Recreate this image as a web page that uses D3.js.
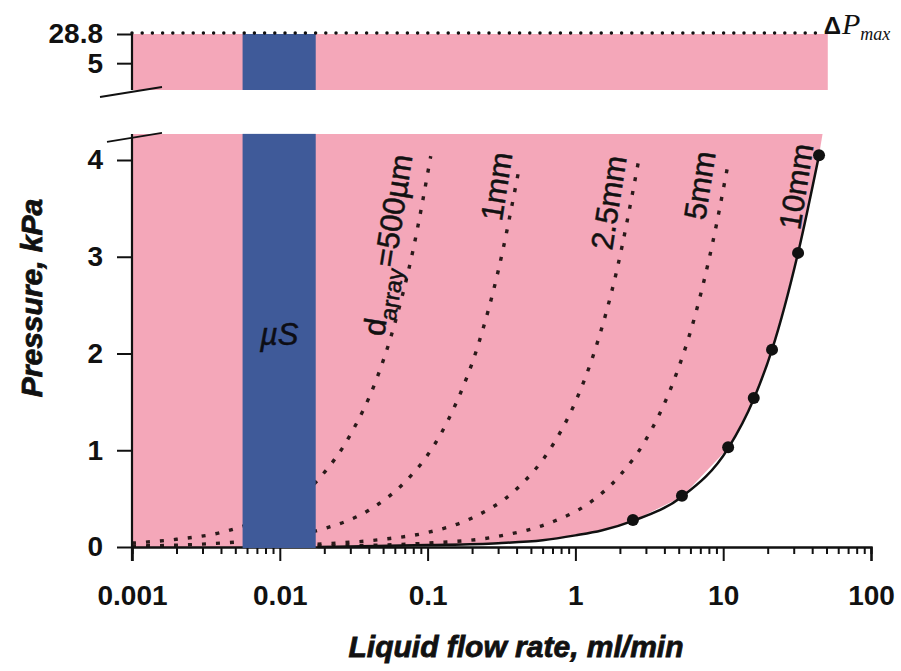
<!DOCTYPE html>
<html>
<head>
<meta charset="utf-8">
<script src="https://cdn.jsdelivr.net/npm/d3@7"></script>
<style>
  html, body { margin: 0; padding: 0; background: #fff; }
  svg { display: block; font-family: "Liberation Sans", Arial, sans-serif; }
</style>
</head>
<body>
<svg id="chart" width="901" height="671"></svg>
<script>
// ---------------- data ----------------
const flowTicks = [0.001, 0.01, 0.1, 1, 10, 100];
const flowTickLabels = ["0.001", "0.01", "0.1", "1", "10", "100"];
const pressureTicksLower = [0, 1, 2, 3, 4];
const pressureTicksUpper = [5, 28.8];
const pressureMax = 28.8;
const lowerTop = 4.27;
const upperBottom = 1;
const flowMin = 0.001, flowMax = 100;
const bandFlow = [0.0056, 0.0175];           // µS region
const pinkUpperRightFlow = 51;

// dotted model lines (d_array)
const curveNames = ["500µm", "1mm", "2.5mm", "5mm"];
const curveFlows = [
  [0.001, 0.002, 0.004, 0.007, 0.01, 0.018, 0.03, 0.045, 0.06, 0.08, 0.105],
  [0.001, 0.003, 0.01, 0.02, 0.04, 0.07, 0.1, 0.15, 0.22, 0.3, 0.41],
  [0.018, 0.05, 0.1, 0.2, 0.4, 0.7, 1.0, 1.4, 1.9, 2.66],
  [0.018, 0.05, 0.1, 0.3, 0.7, 1.2, 2.0, 3.0, 4.5, 6.5, 8.5, 10.7]
];
const curvePressures = [
  [0.04, 0.08, 0.15, 0.27, 0.39, 0.69, 1.16, 1.73, 2.31, 3.08, 4.04],
  [0.01, 0.03, 0.1, 0.19, 0.38, 0.67, 0.95, 1.43, 2.09, 2.85, 3.86],
  [0.03, 0.08, 0.15, 0.3, 0.6, 1.05, 1.5, 2.1, 2.85, 3.97],
  [0.01, 0.02, 0.04, 0.11, 0.26, 0.44, 0.74, 1.11, 1.67, 2.41, 3.15, 3.93]
];

// 10 mm measured line and points
const lineFlow = [0.018, 0.1, 0.3, 0.6, 1.0, 1.5, 2.45, 5.26, 10.8, 16.1, 21.4, 32.1, 44.5];
const linePressure = [0.0, 0.02, 0.04, 0.07, 0.12, 0.17, 0.27, 0.52, 1.02, 1.53, 2.04, 3.04, 4.05];
const dotFlow = [2.45, 5.26, 10.8, 16.1, 21.4, 32.1, 44.5];
const dotPressure = [0.28, 0.53, 1.03, 1.54, 2.04, 3.04, 4.05];
const pinkTopFlow = 47;

// label anchors (data coordinates)
const labelTexts = ["500µm", "1mm", "2.5mm", "5mm", "10mm"];
const labelFlow = [0.0507, 0.318, 1.77, 7.53, 33.1];
const labelPressure = [2.17, 3.36, 3.06, 3.37, 3.27];

// ---------------- drawing ----------------
const SANS = "'Liberation Sans', Arial, sans-serif";
const SERIF = "'Liberation Serif', 'Times New Roman', serif";
const svg = d3.select("#chart");
const pink = "#f4a7b9", blue = "#3f5a99", ink = "#111";

const x = d3.scaleLog().domain([flowMin, flowMax]).range([132, 871]);
const yL = d3.scaleLinear().domain([0, 4]).range([547, 160]);
const yU = d3.scaleLog().domain([upperBottom, pressureMax]).range([90, 34]);

// upper pink
svg.append("rect")
  .attr("x", x(flowMin)).attr("y", yU(pressureMax))
  .attr("width", x(pinkUpperRightFlow) - x(flowMin))
  .attr("height", yU(upperBottom) - yU(pressureMax))
  .attr("fill", pink);

// lower pink polygon bounded by 10mm line
const poly = [[flowMin, 0], [flowMin, lowerTop], [pinkTopFlow, lowerTop]];
for (let i = lineFlow.length - 1; i >= 0; i--) poly.push([lineFlow[i], linePressure[i]]);
svg.append("path")
  .attr("d", d3.line().x(d => x(d[0])).y(d => yL(d[1]))(poly) + "Z")
  .attr("fill", pink);

// dotted curves
const lineGen = d3.line().x(d => x(d[0])).y(d => yL(d[1])).curve(d3.curveMonotoneX);
curveFlows.forEach((fl, i) => {
  const pts = fl.map((f, j) => [f, curvePressures[i][j]]);
  svg.append("path").attr("d", lineGen(pts))
    .attr("fill", "none").attr("stroke", "#2a1a1a")
    .attr("stroke-width", 3.4).attr("stroke-dasharray", "4,10");
});

// x axis
const xMajor = d3.axisBottom(x).tickValues(flowTicks).tickSize(14)
  .tickFormat((d, i) => flowTickLabels[i]);
const minorVals = x.ticks().filter(v => !flowTicks.some(t => Math.abs(t - v) / t < 1e-6));
const xMinor = d3.axisBottom(x).tickValues(minorVals).tickSize(7).tickFormat("");
const gxm = svg.append("g").attr("transform", `translate(0,${yL(0)})`).call(xMinor);
const gx = svg.append("g").attr("transform", `translate(0,${yL(0)})`).call(xMajor);
[gx, gxm].forEach(g => {
  g.select(".domain").attr("stroke", ink).attr("stroke-width", 2.2);
  g.selectAll(".tick line").attr("stroke", ink).attr("stroke-width", 2);
});
gx.selectAll(".tick text")
  .attr("y", 58).attr("dy", 0)
  .attr("font-size", 28).attr("font-weight", "bold").attr("fill", ink)
  .style("font-family", SANS);

// blue µS band (covers curves and axis line)
svg.append("rect")
  .attr("x", x(bandFlow[0])).attr("y", yL(lowerTop))
  .attr("width", x(bandFlow[1]) - x(bandFlow[0]))
  .attr("height", yL(0) - yL(lowerTop) + 1)
  .attr("fill", blue);
svg.append("rect")
  .attr("x", x(bandFlow[0])).attr("y", yU(pressureMax))
  .attr("width", x(bandFlow[1]) - x(bandFlow[0]))
  .attr("height", yU(upperBottom) - yU(pressureMax))
  .attr("fill", blue);
svg.append("text")
  .attr("x", (x(bandFlow[0]) + x(bandFlow[1])) / 2).attr("y", yL(2.09))
  .attr("text-anchor", "middle").attr("font-size", 31).attr("font-style", "italic")
  .attr("fill", "#0d0d14").attr("stroke", "#0d0d14").attr("stroke-width", 0.5)
  .style("font-family", SANS).text("µS");

// 10 mm solid line and points
svg.append("path")
  .attr("d", lineGen(lineFlow.map((f, i) => [f, linePressure[i]])))
  .attr("fill", "none").attr("stroke", ink).attr("stroke-width", 2.5);
svg.selectAll("circle.pt").data(dotFlow).join("circle")
  .attr("class", "pt")
  .attr("cx", d => x(d)).attr("cy", (d, i) => yL(dotPressure[i]))
  .attr("r", 6).attr("fill", ink);

// ΔPmax dotted line
svg.append("line")
  .attr("x1", x(flowMin)).attr("x2", x(pinkUpperRightFlow) - 3)
  .attr("y1", yU(pressureMax) - 1).attr("y2", yU(pressureMax) - 1)
  .attr("stroke", ink).attr("stroke-width", 3.5)
  .attr("stroke-linecap", "round").attr("stroke-dasharray", "0,10.2");
const pm = svg.append("text")
  .attr("x", x(pinkUpperRightFlow) - 4).attr("y", yU(pressureMax))
  .attr("fill", ink);
pm.append("tspan").text("Δ").style("font-family", SANS)
  .attr("font-weight", "bold").attr("font-size", 24);
pm.append("tspan").text("P").style("font-family", SERIF)
  .attr("font-style", "italic").attr("font-size", 30).attr("dx", 1);
pm.append("tspan").text("max").style("font-family", SERIF)
  .attr("font-style", "italic").attr("font-size", 18).attr("dy", 6);

// y axes
const gyL = svg.append("g").attr("transform", `translate(${x(flowMin)},0)`)
  .call(d3.axisLeft(yL).tickValues(pressureTicksLower).tickSize(15).tickPadding(14)
    .tickFormat(d3.format("d")));
const gyU = svg.append("g").attr("transform", `translate(${x(flowMin)},0)`)
  .call(d3.axisLeft(yU).tickValues(pressureTicksUpper).tickSize(15).tickPadding(14)
    .tickFormat(d => String(d)));
gyL.select(".domain").remove();
gyU.select(".domain").remove();
[gyL, gyU].forEach(g => {
  g.selectAll(".tick line").attr("stroke", ink).attr("stroke-width", 2);
  g.selectAll(".tick text").attr("font-size", 28).attr("font-weight", "bold")
    .attr("fill", ink).style("font-family", SANS);
});
svg.append("line").attr("x1", x(flowMin)).attr("x2", x(flowMin))
  .attr("y1", yL(lowerTop)).attr("y2", yL(0) + 14)
  .attr("stroke", ink).attr("stroke-width", 2.2);
svg.append("line").attr("x1", x(flowMin)).attr("x2", x(flowMin))
  .attr("y1", yU(pressureMax)).attr("y2", yU(upperBottom))
  .attr("stroke", ink).attr("stroke-width", 2.2);
// break marks
svg.append("line").attr("x1", x(flowMin) - 32).attr("y1", yU(upperBottom) + 7)
  .attr("x2", x(flowMin) + 30).attr("y2", yU(upperBottom) - 3)
  .attr("stroke", ink).attr("stroke-width", 1.8);
svg.append("line").attr("x1", x(flowMin) - 25).attr("y1", yL(lowerTop) + 8)
  .attr("x2", x(flowMin) + 30).attr("y2", yL(lowerTop) - 1)
  .attr("stroke", ink).attr("stroke-width", 1.8);

// curve labels (rotated)
labelTexts.forEach((t, i) => {
  const tx = svg.append("text")
    .attr("transform", `translate(${x(labelFlow[i])},${yL(labelPressure[i])}) rotate(-81)`)
    .attr("font-size", 31).attr("fill", ink)
    .attr("stroke", ink).attr("stroke-width", 0.5)
    .style("font-family", SANS);
  if (i === 0) {
    tx.append("tspan").text("d");
    tx.append("tspan").text("array").attr("font-size", 23).attr("dy", 9);
    tx.append("tspan").text("=" + t).attr("dy", -9);
  } else {
    tx.text(t);
  }
});

// axis titles
svg.append("text")
  .attr("x", 516).attr("y", 657).attr("text-anchor", "middle")
  .attr("font-size", 30).attr("font-weight", "bold").attr("font-style", "italic")
  .attr("fill", ink).attr("stroke", ink).attr("stroke-width", 0.8)
  .style("font-family", SANS)
  .text("Liquid flow rate, ml/min");
svg.append("text")
  .attr("transform", "translate(42,298) rotate(-90)").attr("text-anchor", "middle")
  .attr("font-size", 30).attr("font-weight", "bold").attr("font-style", "italic")
  .attr("fill", ink).attr("stroke", ink).attr("stroke-width", 0.8)
  .style("font-family", SANS)
  .text("Pressure, kPa");
</script>
</body>
</html>
